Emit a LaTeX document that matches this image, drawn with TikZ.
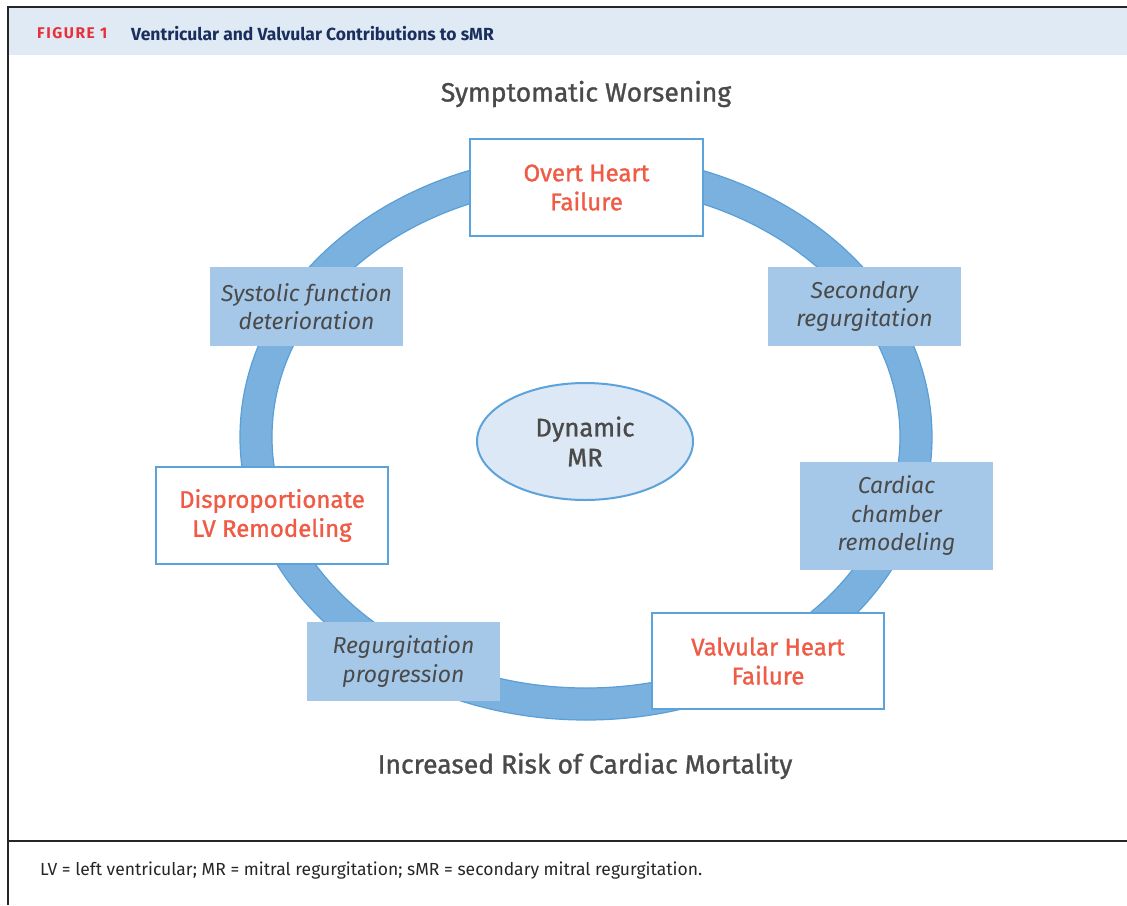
\documentclass[tikz,border=0pt]{standalone}
\usepackage{fontspec}
\setmainfont{Fira Sans}
\usetikzlibrary{shapes.geometric}
\definecolor{bandblue}{HTML}{DFEAF5}
\definecolor{ringblue}{HTML}{7BB1DF}
\definecolor{ringedge}{HTML}{5A9FD6}
\definecolor{boxedge}{HTML}{5BA3DA}
\definecolor{softbox}{HTML}{A6C8E8}
\definecolor{alertred}{HTML}{EF5B45}
\definecolor{figred}{HTML}{E8303A}
\definecolor{navy}{HTML}{1B2F5E}
\definecolor{inkgray}{HTML}{4A4A4A}
\definecolor{corefill}{HTML}{DCE8F5}
\newcommand{\heavier}{\addfontfeature{FakeBold=1.2}}
\tikzset{
  stagebox/.style={draw=boxedge, line width=2.5pt, fill=white, minimum width=233pt,
    minimum height=97pt, align=center, text=alertred, font=\fontsize{24}{29}\selectfont\heavier},
  processbox/.style={fill=softbox, minimum width=193pt, minimum height=79pt, align=center,
    text=inkgray, font=\fontsize{23}{28.5}\selectfont\itshape},
  heading/.style={text=inkgray, font=\fontsize{26.5}{30}\selectfont\heavier},
}
\begin{document}
\begin{tikzpicture}[x=1pt, y=-1pt]
\useasboundingbox (0,0) rectangle (1127,905);
% header band and frame
\fill[bandblue] (8,8) rectangle (1127,55);
\draw[line width=2pt, black!85] (8,7) -- (1127,7);
\draw[line width=2pt, black!85] (8,6) -- (8,905);
\draw[line width=2pt, black!85] (8,841) -- (1127,841);
\node[anchor=west, inner sep=0pt, text=figred, font=\fontsize{15.5}{18}\selectfont\bfseries] (figlabel) at (37,33.5) {\addfontfeature{LetterSpace=10}FIGURE 1};
\node[anchor=west, inner sep=0pt, text=navy, font=\fontsize{17.5}{20}\selectfont\bfseries] (figtitle) at (131,33.5) {Ventricular and Valvular Contributions to sMR};
% cycle ring
\fill[ringblue, even odd rule, draw=ringedge, line width=1.2pt]
  (586,437) ellipse [x radius=346, y radius=283]
  (586,437) ellipse [x radius=314, y radius=251];
% headings
\node[heading] (top) at (586,94) {Symptomatic Worsening};
\node[heading] (bottom) at (585,766) {Increased Risk of Cardiac Mortality};
% stages on the ring
\node[stagebox] (overt) at (586.5,187.5) {Overt Heart\\Failure};
\node[processbox] (systolic) at (306.5,306.5) {Systolic function\\deterioration};
\node[processbox] (secondary) at (864.5,306.5) {Secondary\\regurgitation};
\node[processbox, minimum height=108pt] (chamber) at (896.5,516) {Cardiac\\chamber\\remodeling};
\node[stagebox, minimum width=232pt] (lvremod) at (272,515.5) {Disproportionate\\LV Remodeling};
\node[processbox] (progress) at (403.5,661.5) {Regurgitation\\progression};
\node[stagebox, minimum width=232pt, minimum height=96pt] (valvular) at (768,661) {Valvular Heart\\Failure};
% centre
\node[ellipse, draw=boxedge, line width=2pt, fill=corefill, minimum width=216pt,
  minimum height=117pt, align=center, text=inkgray, font=\fontsize{25.5}{30}\selectfont\heavier] (core) at (585,441.5) {Dynamic\\MR};
% footnote
\node[anchor=west, inner sep=0pt, text=black!85, font=\fontsize{17.5}{20}\selectfont] (abbrev) at (40,871) {LV = left ventricular; MR = mitral regurgitation; sMR = secondary mitral regurgitation.};
\end{tikzpicture}
\end{document}
